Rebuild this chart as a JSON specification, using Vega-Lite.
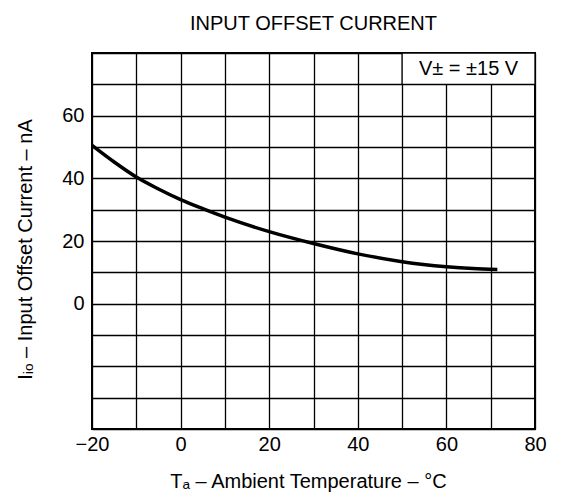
{
  "$schema": "https://vega.github.io/schema/vega-lite/v6.json",
  "width": 443,
  "height": 376,
  "autosize": "none",
  "padding": {"left": 92, "top": 53, "right": 30, "bottom": 72},
  "background": "white",
  "config": {
    "font": "Liberation Sans",
    "view": {"stroke": "black", "strokeWidth": 2},
    "axis": {
      "grid": true, "gridColor": "black", "gridOpacity": 1, "gridWidth": 1.3,
      "domain": false, "ticks": false,
      "labelColor": "black", "labelFontSize": 20, "labelFont": "Liberation Sans",
      "labelFlush": false, "labelOverlap": false,
      "titleFontSize": 20, "titleFontWeight": "normal", "titleColor": "black", "titleFont": "Liberation Sans"
    }
  },
  "title": {"text": "INPUT OFFSET CURRENT", "fontSize": 20, "fontWeight": "normal", "color": "black", "font": "Liberation Sans", "offset": 9},
  "layer": [
    {
      "data": {"values": [
        {"temp": -20, "iio": 50.5},
        {"temp": -15, "iio": 45.2},
        {"temp": -10, "iio": 40.4},
        {"temp": -5, "iio": 36.6},
        {"temp": 0, "iio": 33.2},
        {"temp": 5, "iio": 30.3},
        {"temp": 10, "iio": 27.6},
        {"temp": 20, "iio": 23.0},
        {"temp": 30, "iio": 19.2},
        {"temp": 40, "iio": 15.9},
        {"temp": 50, "iio": 13.4},
        {"temp": 60, "iio": 11.8},
        {"temp": 66, "iio": 11.2},
        {"temp": 71.5, "iio": 10.9}
      ]},
      "mark": {"type": "line", "color": "black", "strokeWidth": 3.5, "interpolate": "monotone"},
      "encoding": {
        "x": {"field": "temp", "type": "quantitative",
          "scale": {"domain": [-20, 80], "nice": false},
          "axis": {"values": [-20, -10, 0, 10, 20, 30, 40, 50, 60, 70, 80],
            "labelExpr": "datum.value % 20 === 0 ? datum.label : ''",
            "labelPadding": 5,
            "title": "Tₐ – Ambient Temperature – °C", "titleX": 216, "titleY": 42}},
        "y": {"field": "iio", "type": "quantitative",
          "scale": {"domain": [-40, 80], "nice": false},
          "axis": {"values": [-40, -30, -20, -10, 0, 10, 20, 30, 40, 50, 60, 70, 80],
            "labelExpr": "datum.value >= 0 && datum.value <= 60 && datum.value % 20 === 0 ? datum.label : ''",
            "labelPadding": 8,
            "title": "Iᵢₒ – Input Offset Current – nA", "titleX": -57, "titleY": 196}}
      }
    },
    {
      "data": {"values": [{}]},
      "mark": {"type": "rect", "fill": "white", "stroke": "black", "strokeWidth": 1.3},
      "encoding": {
        "x": {"datum": 50, "type": "quantitative",
          "axis": {"values": [-20, -10, 0, 10, 20, 30, 40, 50, 60, 70, 80],
            "labelExpr": "datum.value % 20 === 0 ? datum.label : ''",
            "labelPadding": 5,
            "title": "Tₐ – Ambient Temperature – °C", "titleX": 216, "titleY": 42}},
        "x2": {"datum": 80},
        "y": {"datum": 70, "type": "quantitative",
          "axis": {"values": [-40, -30, -20, -10, 0, 10, 20, 30, 40, 50, 60, 70, 80],
            "labelExpr": "datum.value >= 0 && datum.value <= 60 && datum.value % 20 === 0 ? datum.label : ''",
            "labelPadding": 8,
            "title": "Iᵢₒ – Input Offset Current – nA", "titleX": -57, "titleY": 196}},
        "y2": {"datum": 80}
      }
    },
    {
      "data": {"values": [{}]},
      "mark": {"type": "text", "fontSize": 20, "color": "black", "font": "Liberation Sans"},
      "encoding": {
        "x": {"datum": 65, "type": "quantitative",
          "axis": {"values": [-20, -10, 0, 10, 20, 30, 40, 50, 60, 70, 80],
            "labelExpr": "datum.value % 20 === 0 ? datum.label : ''",
            "labelPadding": 5,
            "title": "Tₐ – Ambient Temperature – °C", "titleX": 216, "titleY": 42}},
        "y": {"datum": 75, "type": "quantitative",
          "axis": {"values": [-40, -30, -20, -10, 0, 10, 20, 30, 40, 50, 60, 70, 80],
            "labelExpr": "datum.value >= 0 && datum.value <= 60 && datum.value % 20 === 0 ? datum.label : ''",
            "labelPadding": 8,
            "title": "Iᵢₒ – Input Offset Current – nA", "titleX": -57, "titleY": 196}},
        "text": {"value": "V± = ±15 V"}
      }
    }
  ]
}
